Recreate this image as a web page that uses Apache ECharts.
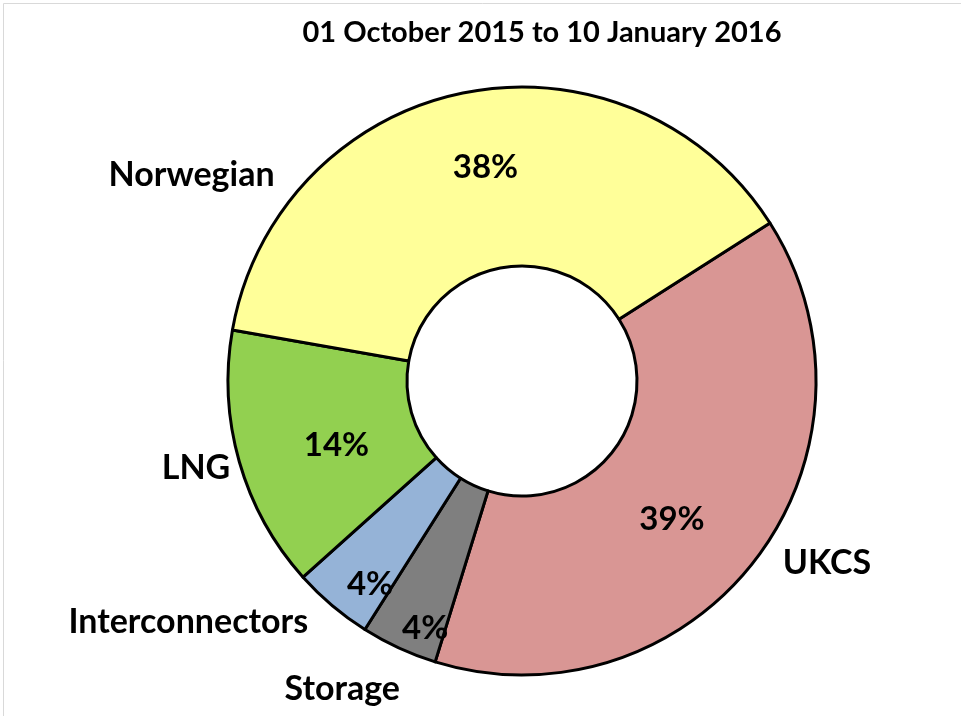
<!DOCTYPE html>
<html>
<head>
<meta charset="utf-8">
<script src="https://cdn.jsdelivr.net/npm/echarts@6/dist/echarts.min.js"></script>
<style>
  html, body { margin: 0; padding: 0; background: #fff; }
  #main { width: 961px; height: 716px; }
</style>
</head>
<body>
<div id="main"></div>
<script>
var myChart = echarts.init(document.getElementById('main'));

// slices, clockwise from the top right
var sources = ['UKCS', 'Storage', 'Interconnectors', 'LNG', 'Norwegian'];
var shares = [38.8, 4.2, 4.4, 14.4, 38.2];
var colors = ['#D99694', '#7F7F7F', '#95B3D7', '#92D050', '#FFFF99'];

// label nudges (px) relative to where echarts puts them
var nameShift = [[22, 4], [6, 41], [-19, 17], [-4, 6], [-185, 82]];
var pctShift = [[-15, 13], [-10, 59], [-18, 45], [14, 7], [4, -10]];

var pieData = sources.map(function (name, i) {
    return { name: name, value: shares[i], itemStyle: { color: colors[i] } };
});

var center = [522, 381];
var radius = [115, 294];
var font = 'Lato, "Open Sans", sans-serif';

var option = {
    title: {
        text: '01 October 2015 to 10 January 2016',
        left: 537,
        top: 13,
        textAlign: 'center',
        textStyle: {
            fontFamily: font,
            fontWeight: 'bold',
            fontSize: 29,
            color: '#000'
        }
    },
    graphic: [{
        type: 'rect',
        shape: { x: 3.5, y: 3.5, width: 1000, height: 1000 },
        style: { fill: 'none', stroke: '#d9d9d9', lineWidth: 1 },
        silent: true
    }],
    series: [
        {
            name: 'share',
            type: 'pie',
            center: center,
            radius: radius,
            startAngle: 32.5,
            clockwise: true,
            avoidLabelOverlap: false,
            silent: true,
            itemStyle: {
                borderColor: '#000',
                borderWidth: 3
            },
            label: {
                show: true,
                position: 'inside',
                formatter: function (p) {
                    return Math.round(p.value) + '%';
                },
                fontFamily: font,
                fontWeight: 'bold',
                fontSize: 33,
                color: '#000'
            },
            labelLayout: function (p) {
                var s = pctShift[p.dataIndex];
                return { dx: s[0], dy: s[1] };
            },
            labelLine: { show: false },
            data: pieData
        },
        {
            name: 'names',
            type: 'pie',
            center: center,
            radius: radius,
            startAngle: 32.5,
            clockwise: true,
            avoidLabelOverlap: false,
            silent: true,
            itemStyle: {
                color: 'rgba(0,0,0,0)',
                borderWidth: 0
            },
            label: {
                show: true,
                position: 'outside',
                formatter: '{b}',
                fontFamily: font,
                fontWeight: 'bold',
                fontSize: 34,
                color: '#000'
            },
            labelLine: { show: false, length: 0, length2: 0 },
            labelLayout: function (p) {
                var s = nameShift[p.dataIndex];
                return { dx: s[0], dy: s[1] };
            },
            data: sources.map(function (name, i) {
                return { name: name, value: shares[i] };
            })
        }
    ]
};

myChart.setOption(option);
</script>
</body>
</html>
